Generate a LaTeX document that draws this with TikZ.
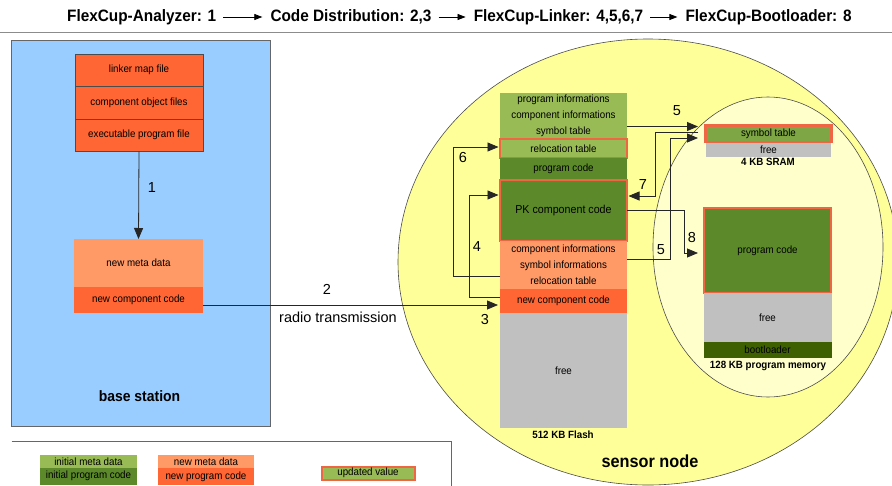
\documentclass[tikz,border=0pt]{standalone}
\usepackage{fontspec}
\setmainfont{Liberation Sans}
\newfontfamily\nar{Liberation Sans}[FakeStretch=0.93]
\usetikzlibrary{arrows.meta,positioning}
\definecolor{bsblue}{HTML}{99CCFF}
\definecolor{ored}{HTML}{FF6633}
\definecolor{lorange}{HTML}{FF9966}
\definecolor{lgreen}{HTML}{99BB55}
\definecolor{dgreen}{HTML}{5C8A2A}
\definecolor{mgreen}{HTML}{7FA644}
\definecolor{bgreen}{HTML}{3F6000}
\definecolor{yel}{HTML}{FFFF99}
\definecolor{lyel}{HTML}{FFFFCC}
\definecolor{fgray}{HTML}{C0C0C0}
\definecolor{rborder}{HTML}{EE6644}
\begin{document}
\begin{tikzpicture}[x=1pt,y=-1pt,
  blk/.style={anchor=north west, inner sep=0pt, outer sep=0pt, align=center,
    font=\nar\fontsize{10.5}{15.8}\selectfont},
  upd/.style={draw=rborder, line width=2.5pt},
  lnk/.style={draw=black!85, line width=0.8pt},
  arr/.style={lnk, -{Triangle[length=11pt,width=9pt]}},
  tarr/.style={draw=black, line width=0.8pt, -{Triangle[length=8pt,width=6pt]}},
  num/.style={font=\fontsize{14.5}{14.5}\selectfont, inner sep=0pt},
  ttl/.style={font=\nar\bfseries\fontsize{16.5}{18}\selectfont, inner sep=0pt, anchor=west},
  lbl/.style={font=\nar\bfseries\fontsize{10.5}{12}\selectfont, inner sep=0pt},
]
\useasboundingbox (0,0) rectangle (892,485);

% title
\node[ttl] (t1) at (67,17) {FlexCup-Analyzer: 1};
\node[ttl, right=54pt of t1] (t2) {Code Distribution: 2,3};
\node[ttl, right=42pt of t2] (t3) {FlexCup-Linker: 4,5,6,7};
\node[ttl, right=42pt of t3] (t4) {FlexCup-Bootloader: 8};
\draw[tarr, shorten <=7pt, shorten >=8pt] (t1) -- (t2);
\draw[tarr, shorten <=7pt, shorten >=8pt] (t2) -- (t3);
\draw[tarr, shorten <=7pt, shorten >=8pt] (t3) -- (t4);
\coordinate (hl0) at (0,32.5);
\coordinate (hl1) at (892,32.5);
\draw[draw=black!45, line width=1.6pt] (hl0) -- (hl1);

% base station
\node[blk, draw=black!60, fill=bsblue, line width=1pt, minimum width=258.5, minimum height=386.5] (bs) at (11.5,40) {};
\node[font=\nar\bfseries\fontsize{15}{16}\selectfont, inner sep=0pt] (bslbl) at (139.5,396) {base station};
\node[blk, draw=black!70, fill=ored, line width=0.6pt, minimum width=128, minimum height=32.5] (bsmap) at (75,54) {linker map file};
\node[blk, draw=black!70, fill=ored, line width=0.6pt, minimum width=128, minimum height=32.5] (bsobj) at (75,86.5) {component object files};
\node[blk, draw=black!70, fill=ored, line width=0.6pt, minimum width=128, minimum height=32.5] (bsexe) at (75,119) {executable program file};
\node[blk, fill=lorange, minimum width=129, minimum height=48] (bsmeta) at (74,239) {new meta data};
\node[blk, fill=ored, minimum width=129, minimum height=26] (bsnew) at (74,287) {new component code};
\draw[arr] (bsexe.south) -- (bsmeta.north);
\node[num] (n1) at (152,188) {1};

% sensor node
\draw[draw=black!70, fill=yel, line width=0.6pt] (648,262) ellipse [x radius=250, y radius=223];
\draw[draw=black!70, fill=lyel, line width=0.6pt] (768,247) ellipse [x radius=115, y radius=150];
\node[font=\nar\bfseries\fontsize{17.5}{18}\selectfont, inner sep=0pt] (snlbl) at (650,461) {sensor node};

% flash
\node[blk, fill=lgreen, minimum width=127, minimum height=46] (fltop) at (500,93) {program informations\\component informations\\symbol table};
\node[blk, fill=lgreen, upd, minimum width=127, minimum height=19] (flreloc) at (500,139) {relocation table};
\node[blk, fill=dgreen, minimum width=127, minimum height=22] (flprog) at (500,158) {program code};
\node[blk, fill=dgreen, upd, minimum width=127, minimum height=61, font=\nar\fontsize{11.5}{12}\selectfont] (flpk) at (500,180) {PK component code};
\node[blk, fill=lorange, minimum width=127, minimum height=48] (flmeta) at (500,241) {component informations\\symbol informations\\relocation table};
\node[blk, fill=ored, minimum width=127, minimum height=24] (flnew) at (500,289) {new component code};
\node[blk, fill=fgray, minimum width=127, minimum height=115] (flfree) at (500,313) {free};
\node[lbl] (fllbl) at (563,435) {512 KB Flash};

% SRAM
\node[blk, fill=mgreen, upd, minimum width=126, minimum height=16.5] (srsym) at (705.5,125.5) {symbol table};
\node[blk, fill=fgray, minimum width=125, minimum height=14] (srfree) at (706,142.5) {free};
\node[lbl] (srlbl) at (768,162) {4 KB SRAM};

% program memory
\node[blk, fill=dgreen, upd, minimum width=127, minimum height=85] (pmprog) at (704,208) {program code};
\node[blk, fill=fgray, minimum width=128, minimum height=49] (pmfree) at (703.5,293) {free};
\node[blk, fill=bgreen, minimum width=128, minimum height=16] (pmboot) at (703.5,342) {bootloader};
\node[lbl] (pmlbl) at (768,366) {128 KB program memory};

% radio transmission
\coordinate (c3e) at (498,305);
\draw[arr] (bsnew.east |- c3e) -- (c3e);
\node[num] (n2) at (327,289) {2};
\node[font=\fontsize{14.5}{15}\selectfont, inner sep=0pt] (radio) at (338,317) {radio transmission};
\node[num] (n3) at (485,320) {3};

% 4
\coordinate (c4s) at (500,297);
\coordinate (c4e) at (498.5,195);
\draw[arr] (c4s) -- ++(-31,0) |- (c4e);
\node[num] (n4) at (477,247) {4};
% 6
\coordinate (c6s) at (500,276);
\coordinate (c6e) at (498.5,147);
\draw[arr] (c6s) -- ++(-47,0) |- (c6e);
\node[num] (n6) at (463,158) {6};
% 5 top
\coordinate (c5a) at (698,126.5);
\draw[arr] (fltop.east |- c5a) -- (c5a);
\node[num] (n5a) at (677,111) {5};
% 7
\coordinate (c7a) at (698,132);
\coordinate (c7e) at (628.5,196);
\draw[arr] (c7a) -- ++(-43,0) |- (c7e);
\node[num] (n7) at (643,185) {7};
% 5 lower
\coordinate (c5s) at (627,259);
\coordinate (c5e) at (698,138);
\draw[arr] (c5s) -- ++(43,0) |- (c5e);
\node[num] (n5b) at (661,250) {5};
% 8
\coordinate (c8e) at (698,253);
\draw[arr] (flpk.east) -- ++(57,0) |- (c8e);
\node[num] (n8) at (692,238) {8};

% legend
\coordinate (lg0) at (11.5,441);
\coordinate (lg1) at (451.5,441);
\coordinate (lg2) at (451.5,486);
\draw[draw=black!60, line width=0.8pt] (lg0) -- (lg1) -- (lg2);
\node[blk, fill=lgreen, minimum width=97, minimum height=12.5, font=\nar\fontsize{10.5}{12}\selectfont] (lgim) at (40,455) {initial meta data};
\node[blk, fill=dgreen, minimum width=97, minimum height=17.5, font=\nar\fontsize{10.5}{12}\selectfont] (lgip) at (40,467.5) {initial program code};
\node[blk, fill=lorange, minimum width=96, minimum height=13, font=\nar\fontsize{10.5}{12}\selectfont] (lgnm) at (158,455) {new meta data};
\node[blk, fill=ored, minimum width=96, minimum height=17, font=\nar\fontsize{10.5}{12}\selectfont] (lgnp) at (158,468) {new program code};
\node[blk, fill=lgreen, draw=rborder, line width=2pt, minimum width=93, minimum height=13, font=\nar\fontsize{10.5}{12}\selectfont] (lgup) at (321.5,466.5) {updated value};
\end{tikzpicture}
\end{document}
